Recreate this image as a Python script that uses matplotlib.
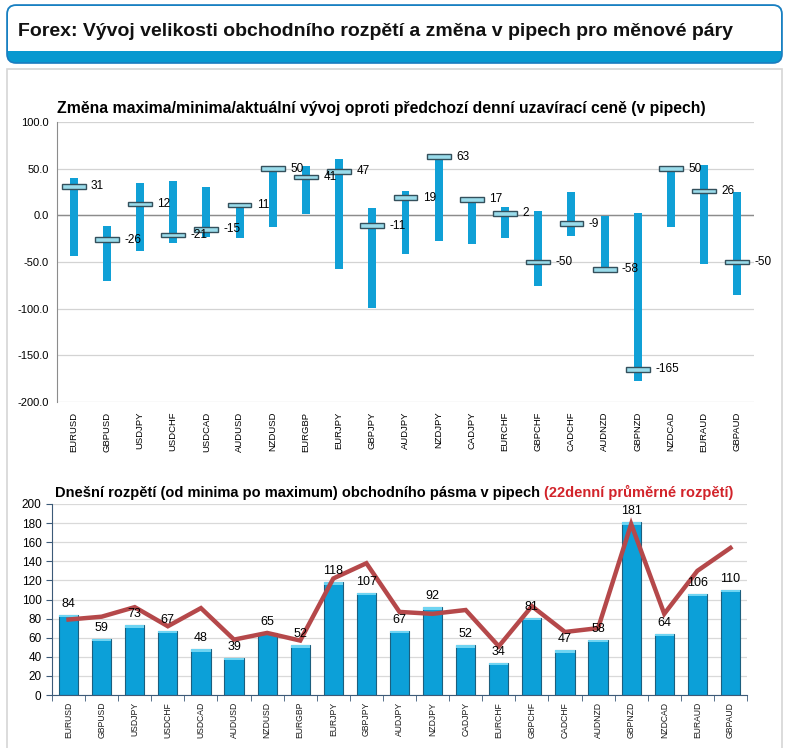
import numpy as np
import matplotlib
matplotlib.use("Agg")
import matplotlib.pyplot as plt
from matplotlib import font_manager
from matplotlib.patches import FancyBboxPatch, Rectangle
from matplotlib.transforms import IdentityTransform
from matplotlib.ticker import FixedLocator, NullFormatter

plt.rcParams['font.family'] = ['Liberation Sans', 'DejaVu Sans']

pairs = ['EURUSD', 'GBPUSD', 'USDJPY', 'USDCHF', 'USDCAD', 'AUDUSD', 'NZDUSD',
         'EURGBP', 'EURJPY', 'GBPJPY', 'AUDJPY', 'NZDJPY', 'CADJPY', 'EURCHF',
         'GBPCHF', 'CADCHF', 'AUDNZD', 'GBPNZD', 'NZDCAD', 'EURAUD', 'GBPAUD']

# change vs previous close (pips)
day_high = [40, -11, 35, 37, 30, 12, 51, 53, 60, 8, 26, 65, 19, 9,
            5, 25, -1, 2, 52, 54, 25]
day_low = [-44, -70, -38, -30, -23, -24, -13, 1, -57, -99, -41, -27, -31, -24,
           -76, -22, -58, -178, -12, -52, -85]
current = [31, -26, 12, -21, -15, 11, 50, 41, 47, -11, 19, 63, 17, 2,
           -50, -9, -58, -165, 50, 26, -50]

# today's range and 22-day average range (pips)
range_today = [84, 59, 73, 67, 48, 39, 65, 52, 118, 107, 67, 92, 52, 34,
               81, 47, 58, 181, 64, 106, 110]
range_avg22 = [79, 82, 92, 72, 91, 58, 65, 57, 122, 138, 87, 85, 89, 51,
               93, 66, 70, 179, 85, 130, 154]

W, H = 788, 748
fig = plt.figure(figsize=(W / 100, H / 100), dpi=100)
fig.patch.set_facecolor('white')

names = {f.name for f in font_manager.fontManager.ttflist}
if 'Liberation Sans Narrow' in names:
    narrow, narrow_size = ['Liberation Sans Narrow', 'DejaVu Sans'], 8.1
else:
    narrow, narrow_size = ['Liberation Sans', 'DejaVu Sans'], 6.8


def px(x0, y0, x1, y1):
    # pixel box (top-left origin) -> display coords
    return x0, H - y1, x1 - x0, y1 - y0


def add_patch(p):
    p.set_transform(IdentityTransform())
    p.set_zorder(-5)
    p.set_figure(fig)
    fig.patches.append(p)


# header box
x, y, w, h = px(7, 5, 782, 63)
add_patch(FancyBboxPatch((x, y), w, h, boxstyle="round,pad=0,rounding_size=9",
                         fc='#0899D0', ec='#1A7DC0', lw=1.2))
x, y, w, h = px(8, 6, 781, 51)
add_patch(FancyBboxPatch((x, y), w, h, boxstyle="round,pad=0,rounding_size=8",
                         fc='white', ec='none'))
x, y, w, h = px(8, 30, 781, 51)
add_patch(Rectangle((x, y), w, h, fc='white', ec='none'))
fig.text(18 / W, 1 - 31 / H, 'Forex: Vývoj velikosti obchodního rozpětí a změna v pipech pro měnové páry',
         fontsize=14, fontweight='bold', va='center', ha='left', color='#111111')

# content panel
x, y, w, h = px(7, 69, 782, 760)
add_patch(Rectangle((x, y), w, h, fc='white', ec='#D6D6D6', lw=1.2))

xs = np.arange(len(pairs))

# ---- top chart ----
ax1 = fig.add_axes([57 / W, 1 - 402 / H, 697 / W, 280 / H])
ax1.patch.set_alpha(0)
ax1.set_xlim(-0.5, len(pairs) - 0.5)
ax1.set_ylim(-200, 100)
ax1.set_yticks(np.arange(-200, 101, 50))
ax1.set_yticklabels([f'{v:.1f}' for v in np.arange(-200, 101, 50)], fontsize=8)
ax1.grid(axis='y', color='#D3D3D3', lw=0.9)
ax1.set_axisbelow(True)
for s in ['top', 'right', 'bottom']:
    ax1.spines[s].set_visible(False)
ax1.spines['left'].set_color('#8C8C8C')
ax1.axhline(0, color='#8C8C8C', lw=1, zorder=1)
ax1.tick_params(length=0, pad=6)
ax1.set_xticks(xs)
ax1.set_xticklabels(pairs, rotation=90, fontsize=narrow_size, family=narrow)
ax1.tick_params(axis='x', pad=7)

hi = np.array(day_high)
lo = np.array(day_low)
ax1.bar(xs, hi - lo, bottom=lo, width=0.24, color='#10A0D6', zorder=2)
cur = np.array(current)
ax1.bar(xs, 5, bottom=cur - 2.5, width=0.72, color='#9ADCEB', edgecolor='#34505C',
        lw=1, zorder=3)
for xi, c in zip(xs, current):
    ax1.text(xi + 0.52, c, f'{c}', fontsize=8.5, va='center', ha='left', zorder=4)

fig.text(57 / W, 1 - 108 / H,
         'Změna maxima/minima/aktuální vývoj oproti předchozí denní uzavírací ceně (v pipech)',
         fontsize=11.3, fontweight='bold', va='center', ha='left')

# ---- bottom chart ----
ax2 = fig.add_axes([52 / W, 1 - 695 / H, 695 / W, 191 / H])
ax2.patch.set_alpha(0)
ax2.set_xlim(-0.5, len(pairs) - 0.5)
ax2.set_ylim(0, 200)
ax2.set_yticks(np.arange(0, 201, 20))
ax2.tick_params(axis='y', labelsize=8.5, length=4, color='#3C5A78', direction='out')
ax2.grid(axis='y', color='#D9D9D9', lw=0.9)
ax2.set_axisbelow(True)
for s in ['top', 'right']:
    ax2.spines[s].set_visible(False)
for s in ['left', 'bottom']:
    ax2.spines[s].set_color('#3C5A78')
ax2.set_xticks(xs)
ax2.set_xticklabels(pairs, rotation=90, fontsize=6.2, color='#1A1A1A')
ax2.tick_params(axis='x', length=0, pad=5)
ax2.xaxis.set_minor_locator(FixedLocator(np.arange(-0.5, len(pairs), 1)))
ax2.xaxis.set_minor_formatter(NullFormatter())
ax2.tick_params(axis='x', which='minor', length=4, color='#3C5A78')

rt = np.array(range_today)
ax2.bar(xs, rt, width=0.58, color='#0CA0D8', edgecolor='#1C5F7E', lw=0.8, zorder=2)
ax2.bar(xs, 2.5, bottom=rt - 2.5, width=0.58, color='#6FD4F2', lw=0, zorder=3)
ax2.plot(xs, range_avg22, color='#B5484A', lw=3.2, zorder=4, solid_joinstyle='miter')
for xi, v in zip(xs, range_today):
    ax2.annotate(f'{v}', (xi, v), xytext=(0, 3.5), textcoords='offset points',
                 ha='center', va='bottom', fontsize=9, zorder=5)

t1 = fig.text(55 / W, 1 - 497 / H,
              'Dnešní rozpětí (od minima po maximum) obchodního pásma v pipech ',
              fontsize=10.5, fontweight='bold', va='baseline', ha='left')
fig.canvas.draw()
bb = t1.get_window_extent(renderer=fig.canvas.get_renderer())
fig.text(bb.x1 / W, 1 - 497 / H, '(22denní průměrné rozpětí)',
         fontsize=10.5, fontweight='bold', va='baseline', ha='left', color='#D2232A')

fig.savefig('out.png', dpi=100)
